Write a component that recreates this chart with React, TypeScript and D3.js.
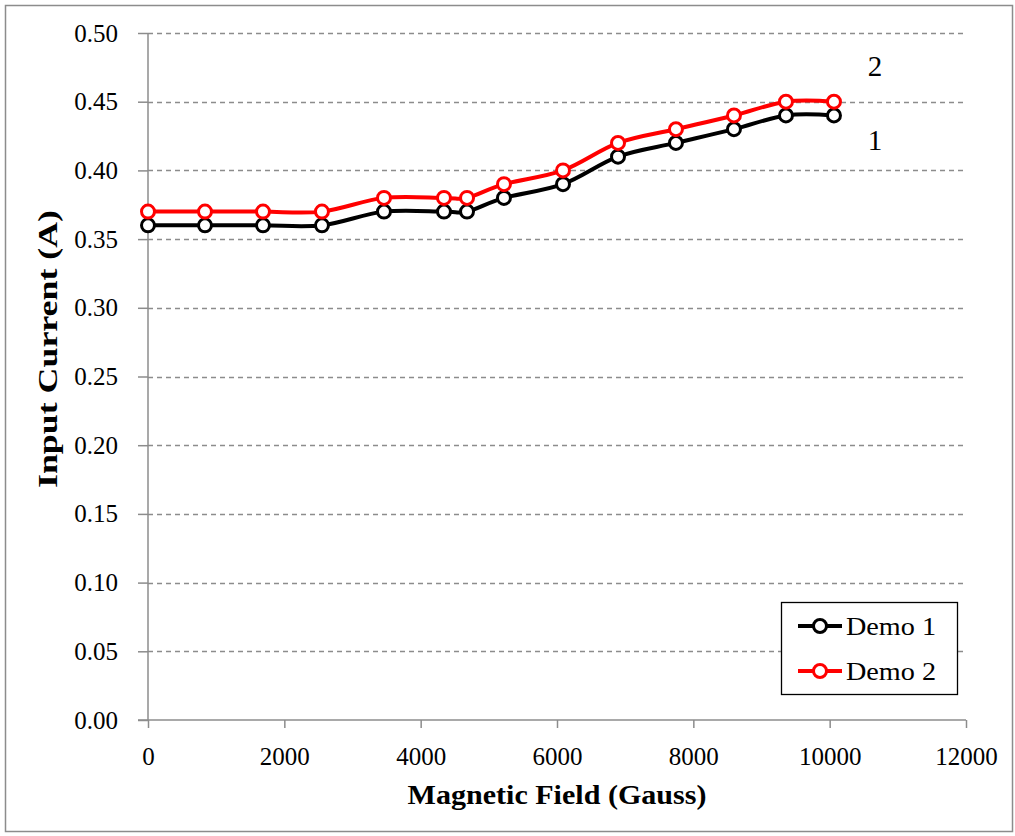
import { useEffect, useRef } from "react";
import * as d3 from "d3";

const fieldGauss = [0, 836, 1687, 2552, 3462, 4342, 4680, 5222, 6088, 6895, 7745, 8596, 9359, 10063];
const demo1 = [0.36, 0.36, 0.36, 0.36, 0.37, 0.37, 0.37, 0.38, 0.39, 0.41, 0.42, 0.43, 0.44, 0.44];
const demo2 = [0.37, 0.37, 0.37, 0.37, 0.38, 0.38, 0.38, 0.39, 0.4, 0.42, 0.43, 0.44, 0.45, 0.45];
const seriesNames = ["Demo 1", "Demo 2"];
const seriesColors = ["#000000", "#ff0000"];
const xTicks = [0, 2000, 4000, 6000, 8000, 10000, 12000];
const yTicks = [0, 0.05, 0.1, 0.15, 0.2, 0.25, 0.3, 0.35, 0.4, 0.45, 0.5];

const width = 1015;
const height = 836;
const font = "'Liberation Serif', 'Times New Roman', serif";

export default function App() {
  const ref = useRef<SVGSVGElement>(null);

  useEffect(() => {
    const svg = d3.select(ref.current);
    svg.selectAll("*").remove();

    const x = d3.scaleLinear().domain([0, 12000]).range([148, 966]);
    const y = d3.scaleLinear().domain([0, 0.5]).range([720, 33]);

    // chart border
    svg
      .append("rect")
      .attr("x", 5.5)
      .attr("y", 5.5)
      .attr("width", 1007)
      .attr("height", 826)
      .attr("fill", "white")
      .attr("stroke", "#8c8c8c")
      .attr("stroke-width", 1.5);

    // gridlines
    svg
      .append("g")
      .selectAll("line")
      .data(yTicks.slice(1))
      .join("line")
      .attr("x1", x(0))
      .attr("x2", x(12000))
      .attr("y1", (d) => Math.round(y(d)) + 0.5)
      .attr("y2", (d) => Math.round(y(d)) + 0.5)
      .attr("stroke", "#8c8c8c")
      .attr("stroke-width", 1.3)
      .attr("stroke-dasharray", "5,4");

    // y axis
    const yAxis = svg
      .append("g")
      .attr("transform", `translate(${x(0)},0)`)
      .call(
        d3
          .axisLeft(y)
          .tickValues(yTicks)
          .tickSize(10)
          .tickPadding(20)
          .tickFormat((d) => d3.format(".2f")(d as number))
      );
    yAxis.select(".domain").attr("stroke", "#8c8c8c").attr("stroke-width", 1.5).attr("d", `M0,${y(0.5)}V${y(0)}`);
    yAxis.selectAll(".tick line").attr("stroke", "#8c8c8c").attr("stroke-width", 1.5);
    yAxis
      .selectAll(".tick text")
      .attr("font-family", font)
      .attr("font-size", 25)
      .attr("fill", "#000");

    // x axis
    const xAxis = svg
      .append("g")
      .attr("transform", `translate(0,${y(0)})`)
      .call(d3.axisBottom(x).tickValues(xTicks).tickSize(8).tickPadding(19).tickFormat(d3.format("d")));
    xAxis.select(".domain").attr("stroke", "#8c8c8c").attr("stroke-width", 1.5).attr("d", `M${x(0) - 10},0H${x(12000)}`);
    xAxis.selectAll(".tick line").attr("stroke", "#8c8c8c").attr("stroke-width", 1.5);
    xAxis
      .selectAll(".tick text")
      .attr("font-family", font)
      .attr("font-size", 25)
      .attr("fill", "#000");

    // axis titles
    svg
      .append("text")
      .attr("x", (x(0) + x(12000)) / 2)
      .attr("y", 804)
      .attr("text-anchor", "middle")
      .attr("font-family", font)
      .attr("font-size", 27)
      .attr("font-weight", "bold")
      .attr("textLength", 299)
      .attr("lengthAdjust", "spacingAndGlyphs")
      .text("Magnetic Field (Gauss)");

    svg
      .append("text")
      .attr("transform", `translate(57,349) rotate(-90)`)
      .attr("text-anchor", "middle")
      .attr("font-family", font)
      .attr("font-size", 27)
      .attr("font-weight", "bold")
      .attr("textLength", 278)
      .attr("lengthAdjust", "spacingAndGlyphs")
      .text("Input Current (A)");

    // series
    const series = [demo1, demo2];
    const line = d3
      .line<number>()
      .x((_, i) => x(fieldGauss[i]))
      .y((d) => y(d))
      .curve(d3.curveCatmullRom.alpha(0));

    series.forEach((vals, si) => {
      const g = svg.append("g");
      g.append("path")
        .attr("d", line(vals) ?? "")
        .attr("fill", "none")
        .attr("stroke", seriesColors[si])
        .attr("stroke-width", 4);
      g.selectAll("circle")
        .data(vals)
        .join("circle")
        .attr("cx", (_, i) => x(fieldGauss[i]))
        .attr("cy", (d) => y(d))
        .attr("r", 6.5)
        .attr("fill", "white")
        .attr("stroke", seriesColors[si])
        .attr("stroke-width", 3);
    });

    // curve labels
    svg
      .append("text")
      .attr("x", 875)
      .attr("y", 76)
      .attr("text-anchor", "middle")
      .attr("font-family", font)
      .attr("font-size", 29)
      .text("2");
    svg
      .append("text")
      .attr("x", 875)
      .attr("y", 150)
      .attr("text-anchor", "middle")
      .attr("font-family", font)
      .attr("font-size", 29)
      .text("1");

    // legend
    const lg = svg.append("g");
    lg.append("rect")
      .attr("x", 781.5)
      .attr("y", 602.5)
      .attr("width", 176)
      .attr("height", 92)
      .attr("fill", "white")
      .attr("stroke", "#000")
      .attr("stroke-width", 1.3);
    seriesNames.forEach((name, i) => {
      const cy = 626 + i * 45;
      lg.append("line")
        .attr("x1", 798)
        .attr("x2", 842)
        .attr("y1", cy)
        .attr("y2", cy)
        .attr("stroke", seriesColors[i])
        .attr("stroke-width", 4);
      lg.append("circle")
        .attr("cx", 820)
        .attr("cy", cy)
        .attr("r", 6.5)
        .attr("fill", "white")
        .attr("stroke", seriesColors[i])
        .attr("stroke-width", 3);
      lg.append("text")
        .attr("x", 846)
        .attr("y", cy + 9)
        .attr("font-family", font)
        .attr("font-size", 26)
        .attr("textLength", 90)
        .attr("lengthAdjust", "spacingAndGlyphs")
        .text(name);
    });
  }, []);

  return (
    <svg
      ref={ref}
      width={width}
      height={height}
      style={{ position: "absolute", left: 0, top: 0, background: "white" }}
    />
  );
}
